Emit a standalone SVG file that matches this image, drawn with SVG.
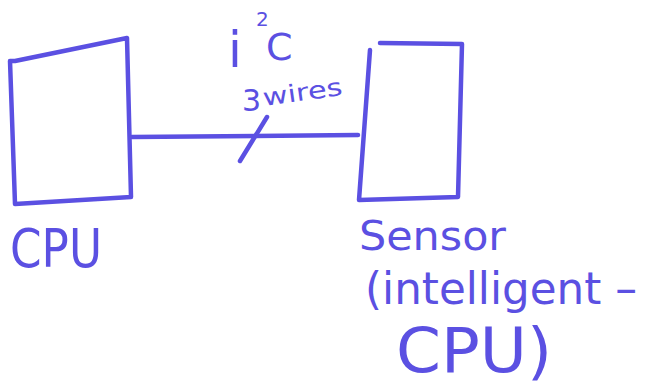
<svg xmlns="http://www.w3.org/2000/svg" width="654" height="392" viewBox="0 0 654 392">
<style>
.ln{fill:none;stroke:#5b50e2;stroke-width:4.5;stroke-linecap:round;stroke-linejoin:round}
.t{fill:#5b50e2;font-family:"DejaVu Sans","Liberation Sans",sans-serif}
</style>
<rect width="654" height="392" fill="#ffffff"/>
<g id="connectors">
<path class="ln" d="M132,137 L358,135"/>
<path class="ln" d="M267,117 L240,161"/>
</g>
<g id="cpu">
<path class="ln" d="M10,61 L15,61 L127,38 L131,197 L15,204 Z"/>
<text class="t" x="10" y="267" font-size="54" textLength="92" lengthAdjust="spacingAndGlyphs">CPU</text>
</g>
<g id="sensor">
<path class="ln" d="M380,43 L462,44 L458,197 L359,200 L370,50"/>
<text class="t" x="359" y="250" font-size="40" textLength="147" lengthAdjust="spacingAndGlyphs">Sensor</text>
<text class="t" x="365" y="304" font-size="44" textLength="272" lengthAdjust="spacingAndGlyphs">(intelligent –</text>
<text class="t" x="396" y="372" font-size="62" textLength="156" lengthAdjust="spacingAndGlyphs">CPU)</text>
</g>
<g id="labels">
<text class="t" x="228" y="67" font-size="50">i</text>
<text class="t" x="256" y="26" font-size="20">2</text>
<text class="t" x="266" y="60" font-size="38">C</text>
<text class="t" x="242" y="111" font-size="30">3</text>
<text class="t" x="264" y="106" font-size="24" textLength="80" lengthAdjust="spacingAndGlyphs" transform="rotate(-8 264 106)">wires</text>
</g>
</svg>
